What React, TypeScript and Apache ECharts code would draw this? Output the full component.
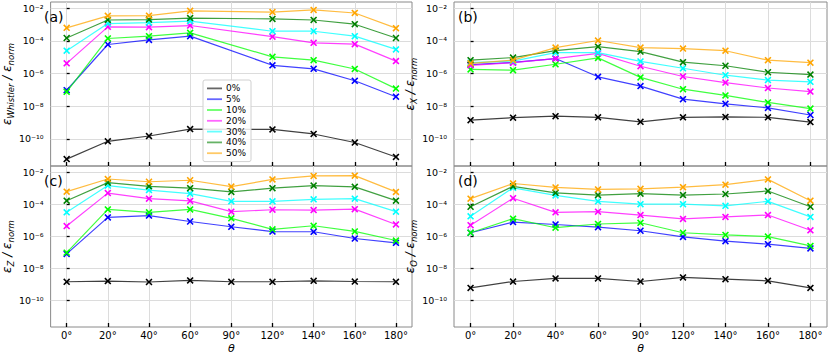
import React, { useEffect, useRef } from "react";
import * as echarts from "echarts";

// ---------- data ----------
const thetaLabels = ["0°", "20°", "40°", "60°", "90°", "120°", "140°", "160°", "180°"];
const seriesNames = ["0%", "5%", "10%", "20%", "30%", "40%", "50%"];
const seriesColors = ["#000000", "#0000ff", "#00ff00", "#ff00ff", "#00ffff", "#008000", "#ffa500"];
const yTickExponents = [-10, -8, -6, -4, -2];
const panelLetters = ["(a)", "(b)", "(c)", "(d)"];
const panelSubscripts = ["Whistler", "X", "Z", "O"];

// (a) eps_Whistler / eps_norm  (no value at 90°)
const whistler0 = [5.8e-12, 7.1e-11, 1.5e-10, 4.0e-10, null, 3.8e-10, 2.0e-10, 6.0e-11, 7.8e-12];
const whistler5 = [9.5e-8, 6.0e-5, 1.15e-4, 1.95e-4, null, 3.2e-6, 1.95e-6, 3.6e-7, 3.8e-8];
const whistler10 = [7.6e-8, 1.4e-4, 1.95e-4, 3.1e-4, null, 1.05e-5, 6.6e-6, 1.9e-6, 1.2e-7];
const whistler20 = [4.2e-6, 7.2e-4, 6.9e-4, 8.7e-4, null, 1.8e-4, 7.6e-5, 6.3e-5, 5.8e-6];
const whistler30 = [2.5e-5, 1.15e-3, 1.3e-3, 1.6e-3, null, 3.9e-4, 3.9e-4, 1.95e-4, 3.0e-5];
const whistler40 = [1.5e-4, 1.9e-3, 2.0e-3, 2.5e-3, null, 2.2e-3, 1.9e-3, 1.05e-3, 1.5e-4];
const whistler50 = [6.3e-4, 3.4e-3, 3.5e-3, 6.9e-3, null, 5.8e-3, 7.9e-3, 5.1e-3, 6.0e-4];

// (b) eps_X / eps_norm
const modeX0 = [1.4e-9, 2.0e-9, 2.45e-9, 2.1e-9, 1.1e-9, 2.1e-9, 2.2e-9, 2.1e-9, 1.07e-9];
const modeX5 = [3.5e-6, 4.8e-6, 8.3e-6, 6.3e-7, 1.7e-7, 2.7e-8, 1.4e-8, 7.9e-9, 2.9e-9];
const modeX10 = [1.8e-6, 1.6e-6, 3.7e-6, 9.1e-6, 5.8e-7, 1.1e-7, 4.6e-8, 1.7e-8, 7.2e-9];
const modeX20 = [3.2e-6, 4.6e-6, 8.3e-6, 1.7e-5, 2.8e-6, 6.6e-7, 2.8e-7, 1.3e-7, 7.9e-8];
const modeX30 = [4.6e-6, 5.8e-6, 1.9e-5, 1.9e-5, 5.5e-6, 2.1e-6, 7.9e-7, 4.0e-7, 3.1e-7];
const modeX40 = [6.6e-6, 9.5e-6, 2.5e-5, 4.4e-5, 2.2e-5, 5.0e-6, 3.0e-6, 1.2e-6, 8.7e-7];
const modeX50 = [4.2e-6, 6.6e-6, 3.9e-5, 1.05e-4, 3.9e-5, 3.4e-5, 2.5e-5, 6.6e-6, 4.6e-6];

// (c) eps_Z / eps_norm
const modeZ0 = [1.45e-9, 1.6e-9, 1.4e-9, 1.75e-9, 1.45e-9, 1.45e-9, 1.65e-9, 1.5e-9, 1.45e-9];
const modeZ5 = [7.9e-8, 1.5e-5, 1.95e-5, 8.3e-6, 3.9e-6, 1.95e-6, 1.9e-6, 7.2e-7, 3.9e-7];
const modeZ10 = [9.5e-8, 4.7e-5, 3.1e-5, 4.7e-5, 1.3e-5, 2.7e-6, 4.5e-6, 2.0e-6, 5.4e-7];
const modeZ20 = [4.3e-6, 4.9e-4, 2.2e-4, 1.6e-4, 3.4e-5, 4.5e-5, 4.3e-5, 4.9e-5, 5.4e-6];
const modeZ30 = [3.1e-5, 1.45e-3, 7.6e-4, 4.5e-4, 1.5e-4, 1.5e-4, 2.0e-4, 2.2e-4, 3.4e-5];
const modeZ40 = [1.65e-4, 2.2e-3, 1.3e-3, 1.0e-3, 5.8e-4, 1.0e-3, 1.45e-3, 1.2e-3, 1.65e-4];
const modeZ50 = [6.0e-4, 3.7e-3, 2.5e-3, 3.1e-3, 1.25e-3, 3.5e-3, 5.8e-3, 6.0e-3, 5.8e-4];

// (d) eps_O / eps_norm
const modeO0 = [6.0e-10, 1.5e-9, 2.35e-9, 2.35e-9, 1.5e-9, 2.7e-9, 2.1e-9, 1.65e-9, 6.0e-10];
const modeO5 = [1.65e-6, 7.6e-6, 5.4e-6, 3.7e-6, 2.2e-6, 9.1e-7, 4.9e-7, 3.2e-7, 1.75e-7];
const modeO10 = [1.65e-6, 1.25e-5, 3.4e-6, 5.8e-6, 6.9e-6, 1.65e-6, 1.2e-6, 9.5e-7, 2.5e-7];
const modeO20 = [4.9e-6, 2.35e-4, 3.1e-5, 3.4e-5, 2.1e-5, 1.2e-5, 1.6e-5, 2.1e-5, 2.35e-6];
const modeO30 = [1.75e-5, 1.05e-3, 3.5e-4, 1.5e-4, 1.0e-4, 1.0e-4, 7.9e-5, 1.5e-4, 1.6e-5];
const modeO40 = [6.9e-5, 1.3e-3, 5.1e-4, 3.7e-4, 4.5e-4, 3.7e-4, 4.3e-4, 6.6e-4, 6.9e-5];
const modeO50 = [2.2e-4, 1.95e-3, 1.1e-3, 8.3e-4, 9.1e-4, 1.15e-3, 1.65e-3, 3.5e-3, 1.65e-4];

const panelA = [whistler0, whistler5, whistler10, whistler20, whistler30, whistler40, whistler50];
const panelB = [modeX0, modeX5, modeX10, modeX20, modeX30, modeX40, modeX50];
const panelC = [modeZ0, modeZ5, modeZ10, modeZ20, modeZ30, modeZ40, modeZ50];
const panelD = [modeO0, modeO5, modeO10, modeO20, modeO30, modeO40, modeO50];
const panels = [panelA, panelB, panelC, panelD];

// ---------- layout ----------
const LOG_MIN = -11.66;
const LOG_MAX = -1.62;
const X_MIN = -0.39;
const X_MAX = 8.39;
const grids = [
  { left: 40, top: 2, width: 372, height: 164 },
  { left: 454, top: 2, width: 373, height: 164 },
  { left: 40, top: 166, width: 372, height: 164 },
  { left: 454, top: 166, width: 373, height: 164 },
];
const FONT = "DejaVu Sans";
const X_SYMBOL =
  "path://M0,1.6L1.6,0L5,3.4L8.4,0L10,1.6L6.6,5L10,8.4L8.4,10L5,6.6L1.6,10L0,8.4L3.4,5Z";

const supMap: Record<string, string> = {
  "-": "⁻", "0": "⁰", "1": "¹", "2": "²", "3": "³", "4": "⁴",
  "5": "⁵", "6": "⁶", "7": "⁷", "8": "⁸", "9": "⁹",
};
const powLabel = (v: number) =>
  "10" + String(Math.round(v)).split("").map((c) => supMap[c] || c).join("");

export default function App() {
  const ref = useRef<HTMLDivElement>(null);
  useEffect(() => {
    if (!ref.current) return;
    const chart = echarts.init(ref.current, undefined, { renderer: "svg" });
    const xIdx = thetaLabels.map((_, i) => i);

    const xAxis = grids.map((_, p) => ({
      type: "value",
      gridIndex: p,
      min: X_MIN,
      max: X_MAX,
      axisLine: { show: false },
      axisTick: {
        show: true,
        inside: true,
        length: 4,
        customValues: xIdx,
        lineStyle: { color: "#000", width: 1.3 },
      },
      axisLabel: {
        show: p >= 2,
        customValues: xIdx,
        formatter: (v: number) => thetaLabels[Math.round(v)] ?? "",
        fontFamily: FONT,
        fontSize: 10,
        color: "#000",
        margin: 3,
      },
      splitLine: { show: true, lineStyle: { color: "#dcdcdc", width: 1 } },
      name: p >= 2 ? "θ" : "",
      nameLocation: "middle",
      nameGap: 16,
      nameTextStyle: { fontFamily: FONT, fontSize: 11, fontStyle: "italic", color: "#000" },
    }));

    const yAxis = grids.map((_, p) => ({
      type: "value",
      gridIndex: p,
      min: LOG_MIN,
      max: LOG_MAX,
      axisLine: { show: false },
      axisTick: {
        show: true,
        inside: true,
        length: 3,
        customValues: yTickExponents,
        lineStyle: { color: "#000", width: 1.3 },
      },
      axisLabel: {
        customValues: yTickExponents,
        formatter: (v: number) => powLabel(v),
        fontFamily: FONT,
        fontSize: 9.5,
        color: "#000",
        margin: 7,
      },
      splitLine: { show: true, lineStyle: { color: "#dcdcdc", width: 1 } },
      name: `{e|ε}{s|${panelSubscripts[p]}}{e| / ε}{s|norm}`,
      nameLocation: "middle",
      nameRotate: 90,
      nameGap: 22,
      nameTextStyle: {
        color: "#000",
        rich: {
          e: { fontFamily: FONT, fontSize: 12, fontStyle: "italic", lineHeight: 16, verticalAlign: "middle", color: "#000" },
          s: { fontFamily: FONT, fontSize: 8.5, fontStyle: "italic", lineHeight: 8, verticalAlign: "bottom", color: "#000" },
        },
      },
    }));

    const series: any[] = [];
    panels.forEach((panel, p) => {
      panel.forEach((arr, i) => {
        series.push({
          type: "line",
          name: seriesNames[i],
          xAxisIndex: p,
          yAxisIndex: p,
          data: arr.map((v, j) => (v == null ? [j, "-"] : [j, Math.log10(v)])),
          connectNulls: true,
          symbol: X_SYMBOL,
          symbolSize: 7,
          showSymbol: true,
          color: seriesColors[i],
          itemStyle: { color: seriesColors[i], opacity: 1 },
          lineStyle: { color: seriesColors[i], width: 1.2, opacity: 0.75 },
          emphasis: { disabled: true },
          z: 3 + i,
        });
      });
    });

    const graphic = panelLetters.map((t, p) => ({
      type: "text",
      left: grids[p].left + 4,
      top: grids[p].top + 8,
      z: 100,
      style: { text: t, font: `14px "${FONT}"`, fill: "#000" },
    }));

    chart.setOption({
      animation: false,
      backgroundColor: "#ffffff",
      grid: grids.map((g) => ({ ...g, show: true, borderColor: "#8a8a8a", borderWidth: 1, backgroundColor: "transparent" })),
      xAxis,
      yAxis,
      series,
      graphic,
      legend: {
        show: true,
        orient: "vertical",
        left: 203,
        top: 80,
        icon: "rect",
        itemWidth: 15,
        itemHeight: 1.8,
        itemGap: 0,
        padding: [3, 5, 3, 4],
        backgroundColor: "rgba(255,255,255,0.85)",
        borderColor: "#d0d0d0",
        borderWidth: 1,
        borderRadius: 2,
        textStyle: { fontFamily: FONT, fontSize: 9, color: "#000", lineHeight: 10.8, padding: [0, 0, 0, -1] },
        data: seriesNames.map((n, i) => ({ name: n, itemStyle: { color: seriesColors[i], opacity: 0.6 } })),
        selectedMode: false,
      },
    });
    return () => chart.dispose();
  }, []);
  return (
    <div
      ref={ref}
      style={{ position: "fixed", left: 0, top: 0, width: 830, height: 355, background: "#fff" }}
    />
  );
}
